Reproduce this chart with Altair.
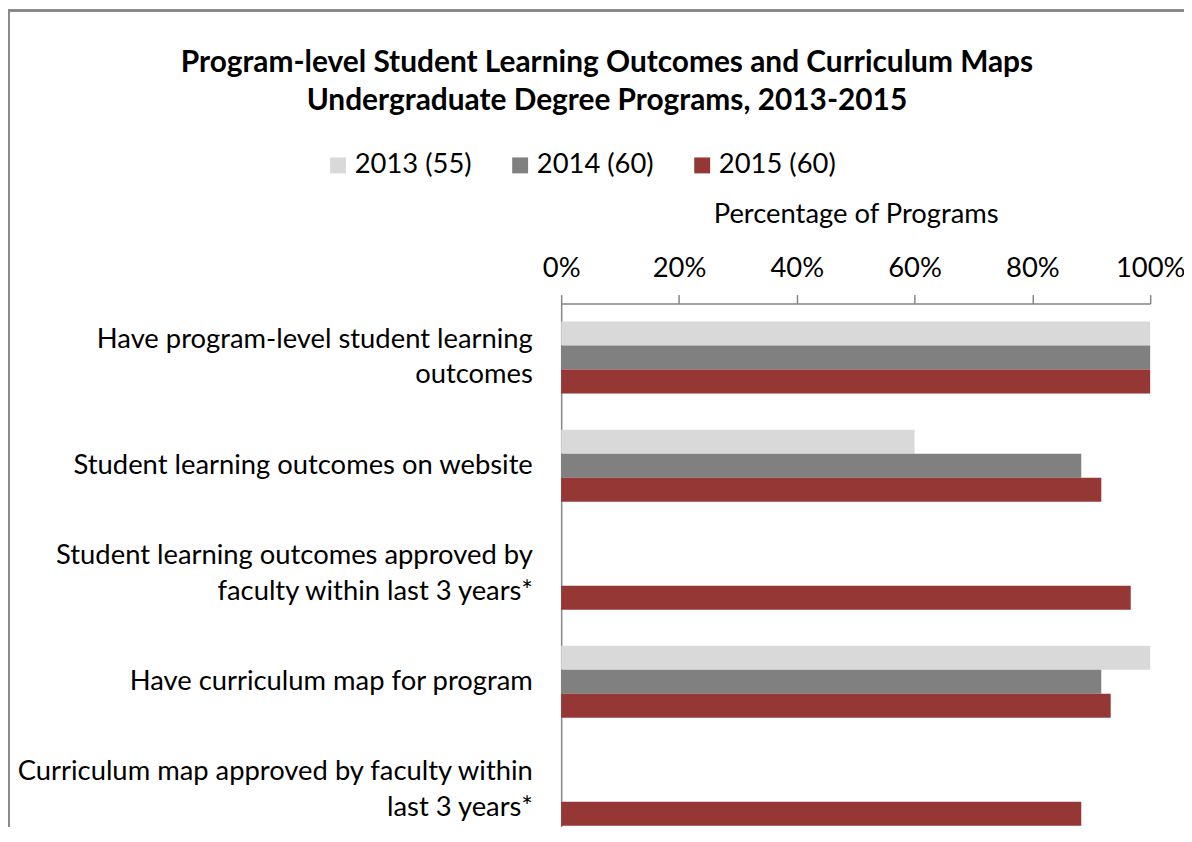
import altair as alt
import pandas as pd

categories = [
    "Have program-level student learning\noutcomes",
    "Student learning outcomes on website",
    "Student learning outcomes approved by\nfaculty within last 3 years*",
    "Have curriculum map for program",
    "Curriculum map approved by faculty within\nlast 3 years*",
]
years = ["2013 (55)", "2014 (60)", "2015 (60)"]
colors = ["#D9D9D9", "#808080", "#953735"]
pct_2013 = [100, 60, None, 100, None]
pct_2014 = [100, 88.3, None, 91.7, None]
pct_2015 = [100, 91.7, 96.7, 93.3, 88.3]
tick_values = [0, 20, 40, 60, 80, 100]

rows = []
for yr, vals in zip(years, [pct_2013, pct_2014, pct_2015]):
    for cat, v in zip(categories, vals):
        if v is not None:
            rows.append({"category": cat, "year": yr, "pct": v})
df = pd.DataFrame(rows)

FONT = "Lato"
GREY = "#868686"
FS = 27.5

bars = alt.Chart(df).mark_bar().encode(
    x=alt.X(
        "pct:Q",
        scale=alt.Scale(domain=[0, 100]),
        axis=alt.Axis(
            orient="top", values=tick_values, labelExpr="datum.value + '%'",
            title="Percentage of Programs", grid=False, labelFlush=False,
            domainColor=GREY, domainWidth=1.5, tickColor=GREY, tickWidth=1.5,
            tickSize=9, labelPadding=12, titlePadding=26,
            labelFontSize=FS, titleFontSize=FS, labelFont=FONT, titleFont=FONT,
            titleFontWeight="normal", labelColor="#000", titleColor="#000",
        ),
    ),
    y=alt.Y(
        "category:N", sort=categories,
        scale=alt.Scale(range=[0, 543], paddingInner=1 / 3, paddingOuter=1 / 6),
        axis=alt.Axis(
            title=None, ticks=False, domainColor=GREY, domainWidth=1.5,
            labelExpr="split(datum.value, '\\n')", labelAlign="right",
            labelPadding=29, labelFontSize=FS, labelFont=FONT, labelColor="#000",
            labelLineHeight=36, labelLimit=600,
            labelOffset={"condition": {"test": "indexof(datum.value, '\\n') >= 0",
                                       "value": -18}, "value": 0},
        ),
    ),
    yOffset=alt.YOffset("year:N", sort=years,
                        scale=alt.Scale(paddingInner=0, paddingOuter=0)),
    color=alt.Color(
        "year:N", sort=years, scale=alt.Scale(domain=years, range=colors),
        legend=alt.Legend(
            title=None, orient="none", direction="horizontal",
            legendX=-238, legendY=-153, symbolType="square", symbolSize=256,
            symbolStrokeWidth=0, labelFontSize=FS, labelFont=FONT,
            labelColor="#000", labelOffset=3, columnPadding=35,
        ),
    ),
)

frame_left = alt.Chart(df).mark_rule(color="#898989", strokeWidth=1.5).encode(
    x=alt.value(-555.5), y=alt.value(-295), y2=alt.value(560)
)
frame_top = alt.Chart(df).mark_rule(color="#898989", strokeWidth=1.5).encode(
    x=alt.value(-556), x2=alt.value(640), y=alt.value(-294.5)
)

chart = alt.layer(bars, frame_left, frame_top).properties(
    width=592,
    height=524,
    padding={"left": 556, "top": 295, "right": 34, "bottom": 0},
    autosize=alt.AutoSizeParams(type="none"),
    title=alt.TitleParams(
        text=["Program-level Student Learning Outcomes and Curriculum Maps",
              "Undergraduate Degree Programs, 2013-2015"],
        font=FONT, fontSize=30, fontWeight="bold", color="#000",
        anchor="middle", dx=-250, dy=111, lineHeight=38,
    ),
).configure_view(stroke=None)

chart.save("out.html", embed_options={"renderer": "svg", "actions": False})
